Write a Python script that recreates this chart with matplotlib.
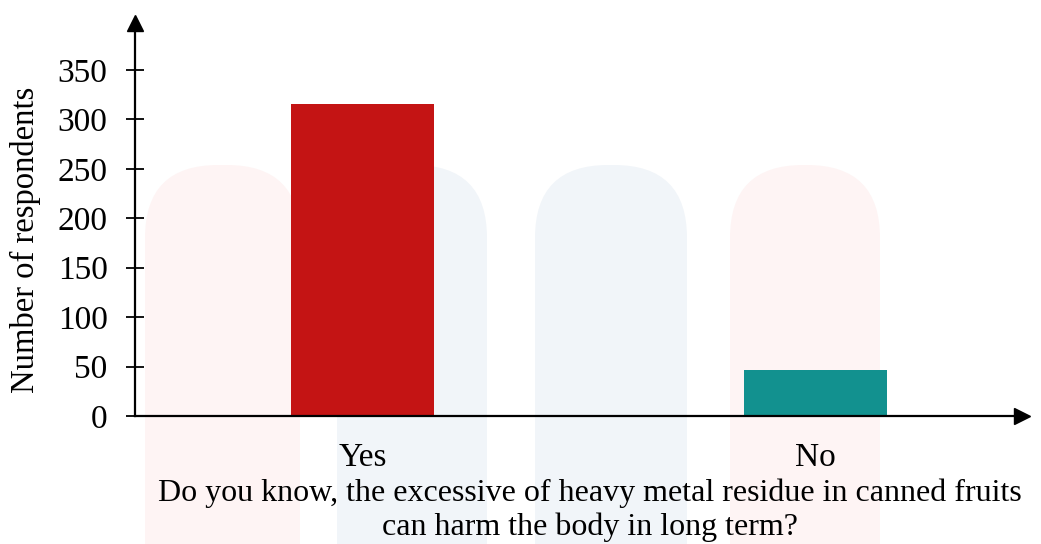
import matplotlib
matplotlib.use("Agg")
import matplotlib.pyplot as plt
from matplotlib.patches import FancyBboxPatch

categories = ["Yes", "No"]
values = [316, 47]
bar_colors = ["#C41414", "#12918F"]
yticks = [0, 50, 100, 150, 200, 250, 300, 350]

plt.rcParams['font.family'] = ['Liberation Serif', 'DejaVu Serif']

W, H = 1041, 544
fig = plt.figure(figsize=(W / 100, H / 100), dpi=100)

# faint watermark pills (figure pixel coords -> fractions)
pills = [(145, 300, "#FEF4F4"), (337, 487, "#F1F5F9"), (535, 687, "#F1F5F9"), (730, 880, "#FEF4F4")]
for x0, x1, c in pills:
    w = (x1 - x0) / W
    p = FancyBboxPatch((x0 / W, -0.2), w, (H - 165) / H + 0.2,
                       boxstyle="round,pad=0,rounding_size=0.07",
                       mutation_aspect=W / H,
                       transform=fig.transFigure, facecolor=c, edgecolor="none", zorder=-5)
    fig.patches.append(p)

ax = fig.add_axes([135 / W, 128 / H, (1022 - 135) / W, (416 - 23) / H])
ax.set_zorder(1)
ax.patch.set_alpha(0)

x = list(range(len(categories)))
ax.bar(x, values, width=0.316, color=bar_colors, zorder=2)

ax.set_xlim(-0.502, 1.456)
ax.set_ylim(0, 397.5)
ax.set_yticks(yticks)
ax.set_xticks(x)
ax.set_xticklabels(categories)

for s in ["top", "right"]:
    ax.spines[s].set_visible(False)
for s in ["left", "bottom"]:
    ax.spines[s].set_linewidth(1.6)
    ax.spines[s].set_zorder(3)

ax.tick_params(axis="y", direction="inout", length=13.5, width=1.3, labelsize=24, pad=13)
ax.tick_params(axis="x", length=0, labelsize=24, pad=19)

ax.plot(1, 0, ">k", markersize=12, transform=ax.transAxes, clip_on=False, zorder=4)
ax.plot(0, 1, "^k", markersize=12, transform=ax.transAxes, clip_on=False, zorder=4)

fig.text(25 / W, 1 - 240 / H, "Number of respondents", rotation=90, ha="center", va="center", fontsize=23.5)
fig.text(590 / W, 1 - 493 / H, "Do you know, the excessive of heavy metal residue in canned fruits",
         ha="center", va="center", fontsize=23)
fig.text(590 / W, 1 - 527 / H, "can harm the body in long term?", ha="center", va="center", fontsize=23)

fig.savefig("out.png", dpi=100)
